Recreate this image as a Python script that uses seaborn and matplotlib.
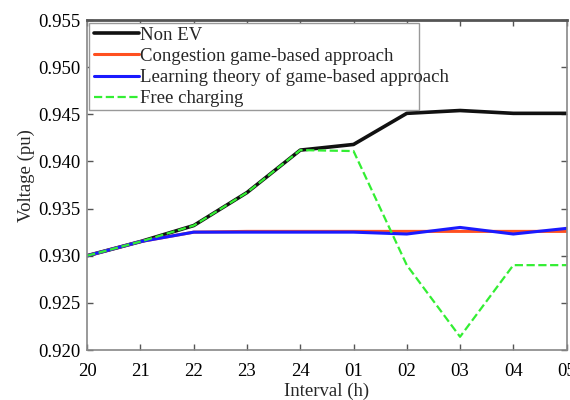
import matplotlib
matplotlib.use("Agg")
import matplotlib.pyplot as plt
import matplotlib.patches as mpatches
import seaborn as sns
import pandas as pd

intervals = ["20", "21", "22", "23", "24", "01", "02", "03", "04", "05"]
non_ev = [0.9300, 0.9315, 0.9332, 0.9367, 0.9412, 0.9418, 0.9451, 0.9454, 0.9451, 0.9451]
congestion = [0.9300, 0.9315, 0.9325, 0.93258, 0.93258, 0.93258, 0.93258, 0.93258, 0.93258, 0.93258]
learning = [0.9300, 0.9315, 0.9325, 0.9325, 0.9325, 0.9325, 0.9323, 0.9330, 0.9323, 0.9329]
free_charging = [0.9300, 0.9315, 0.9332, 0.9367, 0.9412, 0.9411, 0.9290, 0.9214, 0.9290, 0.9290]
yticks = [0.920, 0.925, 0.930, 0.935, 0.940, 0.945, 0.950, 0.955]

sns.set_style("white")
plt.rcParams['font.family'] = ['Liberation Serif', 'DejaVu Serif']

fig = plt.figure(figsize=(5.7, 4.0), dpi=100)
ax = fig.add_axes([0.153, 0.125, 0.841, 0.825])

pos = list(range(len(intervals)))
series = [
    ("Non EV", non_ev, "#111111", 2.6, "-"),
    ("Congestion game-based approach", congestion, "#ff5020", 2.2, "-"),
    ("Learning theory of game-based approach", learning, "#1a1aff", 2.2, "-"),
    ("Free charging", free_charging, "#33ee33", 1.6, "--"),
]
for name, vals, color, lw, ls in series:
    df = pd.DataFrame({"x": pos, "y": vals})
    sns.lineplot(data=df, x="x", y="y", ax=ax, color=color, linewidth=lw,
                 linestyle=ls, label=name)

ax.set_xlim(0, len(intervals) - 1)
ax.set_ylim(0.920, 0.955)
ax.set_xticks(pos)
ax.set_xticklabels(intervals)
ax.set_yticks(yticks)
ax.set_yticklabels([f"{v:.3f}" for v in yticks])
ax.tick_params(direction="in", length=4, width=1, colors="#555555",
               labelcolor="black", labelsize=13.5, top=True, right=True,
               bottom=True, left=True, pad=5)
ax.tick_params(axis="x", pad=9)
for s in ["left", "bottom", "right"]:
    ax.spines[s].set_color("#888888")
    ax.spines[s].set_linewidth(1.2)
ax.spines["top"].set_color("#555555")
ax.spines["top"].set_linewidth(2.0)

ax.set_xlabel("Interval (h)", fontsize=13.5, labelpad=2)
ax.set_ylabel("Voltage (pu)", fontsize=13.5)
ax.yaxis.set_label_coords(-0.108, 0.53)

# legend frame narrower than its longest label, as in the reference
frame = mpatches.Rectangle((0.003, 0.727), 0.689, 0.265, transform=ax.transAxes,
                           facecolor="white", edgecolor="#999999", linewidth=1.0,
                           zorder=4)
ax.add_patch(frame)
leg = ax.legend(loc="upper left", bbox_to_anchor=(0.0, 1.0), fontsize=13.5,
                frameon=False, handlelength=2.4, handletextpad=0.05,
                borderpad=0.25, labelspacing=0.2, borderaxespad=0.1)
leg.set_zorder(5)

fig.savefig("out.png", dpi=100)
